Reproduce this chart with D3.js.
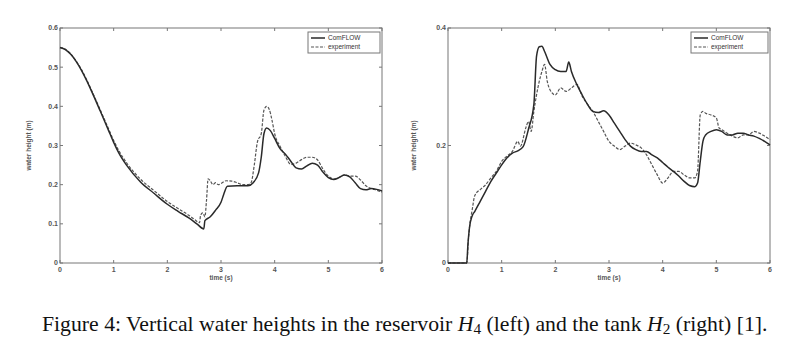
<!DOCTYPE html>
<html>
<head>
<meta charset="utf-8">
<script src="https://cdn.jsdelivr.net/npm/d3@7"></script>
<style>
  body { margin: 0; background: #fff; }
  svg { display: block; }
</style>
</head>
<body>
<div id="chart"></div>
<script>
// reservoir H4 (left)
const leftComflow = [
  [0, 0.55], [0.1, 0.545], [0.2, 0.533], [0.3, 0.515], [0.4, 0.492], [0.5, 0.465],
  [0.6, 0.435], [0.75, 0.388], [0.9, 0.34], [1.0, 0.308], [1.1, 0.28], [1.25, 0.248],
  [1.5, 0.207], [1.75, 0.178], [2.0, 0.15], [2.2, 0.132], [2.4, 0.115],
  [2.55, 0.1], [2.68, 0.087], [2.7, 0.108], [2.8, 0.118], [2.9, 0.135], [3.0, 0.155],
  [3.05, 0.175], [3.12, 0.196], [3.3, 0.197], [3.5, 0.197], [3.6, 0.205], [3.7, 0.23],
  [3.75, 0.27], [3.8, 0.33], [3.85, 0.345], [3.92, 0.338], [4.0, 0.318], [4.1, 0.292],
  [4.2, 0.278], [4.3, 0.26], [4.4, 0.243], [4.5, 0.24], [4.6, 0.248], [4.7, 0.255],
  [4.8, 0.25], [4.9, 0.232], [5.0, 0.218], [5.1, 0.213], [5.2, 0.218], [5.3, 0.225],
  [5.4, 0.22], [5.5, 0.205], [5.6, 0.19], [5.7, 0.187], [5.8, 0.19], [5.9, 0.188], [6.0, 0.184]
];
const leftExperiment = [
  [0, 0.55], [0.1, 0.546], [0.2, 0.534], [0.3, 0.516], [0.4, 0.494], [0.5, 0.467],
  [0.6, 0.437], [0.75, 0.391], [0.9, 0.344], [1.0, 0.313], [1.1, 0.286], [1.25, 0.254],
  [1.5, 0.214], [1.75, 0.185], [2.0, 0.157], [2.2, 0.139], [2.4, 0.122],
  [2.5, 0.112], [2.6, 0.103], [2.62, 0.122], [2.66, 0.128], [2.7, 0.118], [2.73, 0.16],
  [2.76, 0.215], [2.8, 0.21], [2.85, 0.2], [2.9, 0.205], [2.95, 0.2], [3.0, 0.203],
  [3.1, 0.21], [3.2, 0.209], [3.3, 0.205], [3.4, 0.2], [3.5, 0.2], [3.56, 0.205],
  [3.62, 0.25], [3.68, 0.31], [3.75, 0.33], [3.8, 0.39], [3.85, 0.4], [3.9, 0.392],
  [3.95, 0.365], [4.0, 0.33], [4.1, 0.298], [4.2, 0.272], [4.3, 0.252], [4.4, 0.255],
  [4.5, 0.264], [4.6, 0.27], [4.7, 0.27], [4.8, 0.263], [4.9, 0.24], [5.0, 0.222],
  [5.1, 0.215], [5.2, 0.219], [5.3, 0.225], [5.4, 0.222], [5.5, 0.222], [5.6, 0.212],
  [5.7, 0.197], [5.8, 0.19], [5.9, 0.186], [6.0, 0.181]
];

// tank H2 (right)
const rightComflow = [
  [0, 0], [0.35, 0], [0.37, 0.03], [0.4, 0.06], [0.45, 0.08], [0.5, 0.088], [0.6, 0.105],
  [0.7, 0.122], [0.8, 0.139], [0.9, 0.153], [1.0, 0.167], [1.1, 0.179], [1.2, 0.187],
  [1.3, 0.191], [1.4, 0.198], [1.5, 0.228], [1.6, 0.27], [1.65, 0.352], [1.7, 0.368],
  [1.75, 0.369], [1.8, 0.36], [1.9, 0.338], [2.0, 0.329], [2.1, 0.326], [2.2, 0.326],
  [2.25, 0.342], [2.3, 0.326], [2.4, 0.304], [2.5, 0.286], [2.6, 0.27], [2.7, 0.258],
  [2.8, 0.256], [2.9, 0.259], [3.0, 0.252], [3.1, 0.238], [3.2, 0.224], [3.3, 0.21],
  [3.4, 0.199], [3.5, 0.193], [3.6, 0.19], [3.7, 0.19], [3.8, 0.184], [3.9, 0.179],
  [4.0, 0.171], [4.1, 0.163], [4.2, 0.156], [4.3, 0.148], [4.4, 0.139], [4.5, 0.132],
  [4.6, 0.13], [4.65, 0.136], [4.7, 0.173], [4.75, 0.207], [4.8, 0.218], [4.9, 0.224],
  [5.0, 0.227], [5.1, 0.224], [5.2, 0.218], [5.3, 0.218], [5.4, 0.221], [5.5, 0.221],
  [5.6, 0.218], [5.7, 0.216], [5.8, 0.212], [5.9, 0.207], [6.0, 0.201]
];
const rightExperiment = [
  [0, 0], [0.35, 0], [0.38, 0.04], [0.4, 0.06], [0.45, 0.09], [0.5, 0.115], [0.6, 0.125],
  [0.7, 0.133], [0.8, 0.145], [0.9, 0.156], [1.0, 0.173], [1.1, 0.182], [1.2, 0.19],
  [1.3, 0.207], [1.35, 0.199], [1.45, 0.23], [1.5, 0.241], [1.55, 0.224], [1.6, 0.258],
  [1.7, 0.309], [1.75, 0.326], [1.8, 0.338], [1.85, 0.309], [1.9, 0.295], [2.0, 0.286],
  [2.1, 0.298], [2.2, 0.292], [2.3, 0.298], [2.4, 0.304], [2.5, 0.284], [2.6, 0.27],
  [2.7, 0.258], [2.8, 0.241], [2.9, 0.224], [3.0, 0.207], [3.1, 0.199], [3.2, 0.193],
  [3.3, 0.199], [3.4, 0.204], [3.5, 0.201], [3.6, 0.196], [3.7, 0.184], [3.8, 0.167],
  [3.9, 0.15], [4.0, 0.136], [4.1, 0.145], [4.2, 0.156], [4.3, 0.156], [4.4, 0.15],
  [4.5, 0.145], [4.6, 0.145], [4.65, 0.156], [4.7, 0.252], [4.75, 0.258], [4.8, 0.255],
  [4.9, 0.252], [5.0, 0.247], [5.05, 0.23], [5.1, 0.227], [5.2, 0.221], [5.3, 0.216],
  [5.4, 0.213], [5.5, 0.218], [5.6, 0.218], [5.7, 0.224], [5.8, 0.221], [5.9, 0.216],
  [6.0, 0.21]
];

const xTicks = [0, 1, 2, 3, 4, 5, 6];
const leftYTicks = [0, 0.1, 0.2, 0.3, 0.4, 0.5, 0.6];
const rightYTicks = [0, 0.2, 0.4];
const seriesNames = ["ComFLOW", "experiment"];

const W = 785, H = 351;
const svg = d3.select("#chart").append("svg").attr("width", W).attr("height", H);

const axisColor = "#777";
const lineColor = "#2a2a2a";
const tickFont = "Liberation Sans, Arial, sans-serif";

function drawPanel(opt) {
  const x = d3.scaleLinear().domain([0, 6]).range([opt.x0, opt.x1]);
  const y = d3.scaleLinear().domain([0, opt.yMax]).range([opt.y1, opt.y0]);
  const g = svg.append("g");

  // box
  g.append("rect")
    .attr("x", opt.x0).attr("y", opt.y0)
    .attr("width", opt.x1 - opt.x0).attr("height", opt.y1 - opt.y0)
    .attr("fill", "none").attr("stroke", axisColor).attr("stroke-width", 1);

  // inward ticks on all four sides (matlab style)
  const tl = 3;
  g.selectAll(".xt").data(opt.xTicks).join("line")
    .attr("x1", d => x(d)).attr("x2", d => x(d))
    .attr("y1", opt.y1).attr("y2", opt.y1 - tl)
    .attr("stroke", axisColor);
  g.selectAll(".xt2").data(opt.xTicks).join("line")
    .attr("x1", d => x(d)).attr("x2", d => x(d))
    .attr("y1", opt.y0).attr("y2", opt.y0 + tl)
    .attr("stroke", axisColor);
  g.selectAll(".yt").data(opt.yTicks).join("line")
    .attr("x1", opt.x0).attr("x2", opt.x0 + tl)
    .attr("y1", d => y(d)).attr("y2", d => y(d))
    .attr("stroke", axisColor);
  g.selectAll(".yt2").data(opt.yTicks).join("line")
    .attr("x1", opt.x1).attr("x2", opt.x1 - tl)
    .attr("y1", d => y(d)).attr("y2", d => y(d))
    .attr("stroke", axisColor);

  // tick labels
  g.selectAll(".xl").data(opt.xTicks).join("text")
    .attr("x", d => x(d)).attr("y", opt.y1 + 9)
    .attr("text-anchor", "middle")
    .attr("font-family", tickFont).attr("font-size", 7).attr("font-weight", "bold").attr("fill", "#555")
    .text(d => d);
  g.selectAll(".yl").data(opt.yTicks).join("text")
    .attr("x", opt.x0 - 2).attr("y", d => y(d) + 2.4)
    .attr("text-anchor", "end")
    .attr("font-family", tickFont).attr("font-size", 7).attr("font-weight", "bold").attr("fill", "#555")
    .text(d => d);

  // axis titles
  g.append("text")
    .attr("x", (opt.x0 + opt.x1) / 2).attr("y", opt.y1 + 17)
    .attr("text-anchor", "middle")
    .attr("font-family", tickFont).attr("font-size", 6.5).attr("font-weight", "bold").attr("fill", "#555")
    .text("time (s)");
  g.append("text")
    .attr("transform", `translate(${opt.yLabelX},${(opt.y0 + opt.y1) / 2}) rotate(-90)`)
    .attr("text-anchor", "middle")
    .attr("font-family", tickFont).attr("font-size", 6.5).attr("font-weight", "bold").attr("fill", "#555")
    .text("water height (m)");

  const line = d3.line().x(d => x(d[0])).y(d => y(d[1])).curve(d3.curveMonotoneX);

  g.append("path").datum(opt.experiment)
    .attr("d", line).attr("fill", "none")
    .attr("stroke", "#555").attr("stroke-width", 1.2)
    .attr("stroke-dasharray", "3,1.5");
  g.append("path").datum(opt.comflow)
    .attr("d", line).attr("fill", "none")
    .attr("stroke", lineColor).attr("stroke-width", 1.5);

  // legend
  const lg = g.append("g");
  lg.append("rect")
    .attr("x", opt.legX).attr("y", opt.y0 + 4)
    .attr("width", opt.x1 - 2 - opt.legX).attr("height", 21)
    .attr("fill", "#fff").attr("stroke", axisColor);
  seriesNames.forEach((name, i) => {
    const ly = opt.y0 + 10 + i * 9;
    lg.append("line")
      .attr("x1", opt.legX + 3).attr("x2", opt.legX + 17)
      .attr("y1", ly).attr("y2", ly)
      .attr("stroke", i === 0 ? lineColor : "#555")
      .attr("stroke-width", i === 0 ? 1.5 : 1.2)
      .attr("stroke-dasharray", i === 0 ? null : "3,1.5");
    lg.append("text")
      .attr("x", opt.legX + 20).attr("y", ly + 2.2)
      .attr("font-family", tickFont).attr("font-size", 6.5).attr("fill", "#333")
      .text(name);
  });
}

drawPanel({
  x0: 60, x1: 382, y0: 28, y1: 263, yMax: 0.6,
  xTicks, yTicks: leftYTicks, yLabelX: 31, legX: 308,
  comflow: leftComflow, experiment: leftExperiment
});
drawPanel({
  x0: 448, x1: 770, y0: 28, y1: 263, yMax: 0.4,
  xTicks, yTicks: rightYTicks, yLabelX: 416, legX: 691,
  comflow: rightComflow, experiment: rightExperiment
});

// caption
const cap = svg.append("text")
  .attr("x", 42).attr("y", 331)
  .attr("font-family", "Liberation Serif, Times New Roman, serif")
  .attr("font-size", 17).attr("fill", "#111");
cap.append("tspan").text("Figure 4:  Vertical water heights in the reservoir ");
cap.append("tspan").attr("font-style", "italic").text("H");
cap.append("tspan").attr("font-size", 12).attr("dy", 3).text("4");
cap.append("tspan").attr("dy", -3).text(" (left) and the tank ");
cap.append("tspan").attr("font-style", "italic").text("H");
cap.append("tspan").attr("font-size", 12).attr("dy", 3).text("2");
cap.append("tspan").attr("dy", -3).text(" (right) [1].");

// stretch caption to the width it has in the figure
const capW = cap.node().getComputedTextLength();
cap.attr("font-size", 17 * 726 / capW);
cap.selectAll("tspan").each(function () {
  const fs = d3.select(this).attr("font-size");
  if (fs) d3.select(this).attr("font-size", fs * 726 / capW);
});
</script>
</body>
</html>
